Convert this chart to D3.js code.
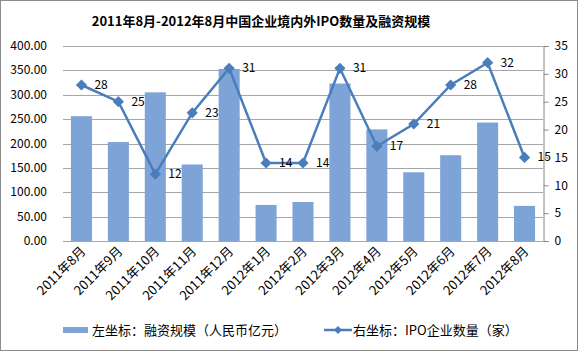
<!DOCTYPE html>
<html>
<head>
<meta charset="utf-8">
<script src="https://cdn.jsdelivr.net/npm/d3@7"></script>
<style>
body { margin: 0; background: #fff; }
text { font-family: "Noto Sans CJK SC", "Noto Sans", sans-serif; fill: #000; }
</style>
</head>
<body>
<div id="container"></div>
<script>
let w = 578;
let h = 351;

let months = ["2011年8月","2011年9月","2011年10月","2011年11月","2011年12月","2012年1月","2012年2月",
  "2012年3月","2012年4月","2012年5月","2012年6月","2012年7月","2012年8月"];
let funding = [256, 203, 305, 157, 353, 74, 80, 323, 229, 141, 176, 243, 72];
let ipoCount = [28, 25, 12, 23, 31, 14, 14, 31, 17, 21, 28, 32, 15];
let leftTicks = [0, 50, 100, 150, 200, 250, 300, 350, 400];
let rightTicks = [0, 5, 10, 15, 20, 25, 30, 35];

let plotL = 63, plotR = 543, plotT = 46, plotB = 241;

let viz = d3.select("#container").append("svg")
  .attr("width", w)
  .attr("height", h);

viz.append("rect")
  .attr("x", 0.5).attr("y", 0.5)
  .attr("width", w - 1).attr("height", h - 1)
  .attr("fill", "#fff")
  .attr("stroke", "#8c8c8c");

let x = d3.scaleBand().domain(months).range([plotL, plotR]).paddingInner(0.43).paddingOuter(0.215);
let yL = d3.scaleLinear().domain([0, 400]).range([plotB, plotT]);
let yR = d3.scaleLinear().domain([0, 35]).range([plotB, plotT]);

// title
viz.append("text")
  .attr("x", 261).attr("y", 26)
  .attr("text-anchor", "middle")
  .style("font-size", "13px")
  .style("font-weight", "bold")
  .text("2011年8月-2012年8月中国企业境内外IPO数量及融资规模");

// gridlines
viz.selectAll(".grid").data(leftTicks).enter()
  .append("line")
  .attr("class", "grid")
  .attr("x1", plotL).attr("x2", plotR)
  .attr("y1", d => Math.round(yL(d)) + 0.5)
  .attr("y2", d => Math.round(yL(d)) + 0.5)
  .attr("stroke", "#a6a6a6");

// left axis labels
viz.selectAll(".lab").data(leftTicks).enter()
  .append("text")
  .attr("class", "lab")
  .attr("x", 47)
  .attr("y", d => yL(d) + 4)
  .attr("text-anchor", "end")
  .style("font-size", "12px")
  .text(d => d3.format(".2f")(d));

// right axis
let rAxis = viz.append("g")
  .attr("transform", "translate(" + (plotR + 0.5) + ",0)")
  .call(d3.axisRight(yR).tickValues(rightTicks).tickSize(5).tickPadding(6));
rAxis.select(".domain").attr("stroke", "#868686");
rAxis.selectAll(".tick line").attr("stroke", "#868686");
rAxis.selectAll(".tick text").style("font-size", "12px").style("font-family", "Noto Sans CJK SC");

// bars
viz.selectAll(".bar").data(funding).enter()
  .append("rect")
  .attr("class", "bar")
  .attr("x", (d, i) => x(months[i]))
  .attr("width", x.bandwidth())
  .attr("y", d => yL(d))
  .attr("height", d => plotB - yL(d))
  .attr("fill", "#7ea4d7");

// x labels
viz.selectAll(".xl").data(months).enter()
  .append("text")
  .attr("class", "xl")
  .attr("text-anchor", "end")
  .attr("transform", d => "translate(" + (x(d) + x.bandwidth() / 2 + 5) + "," + 252 + ") rotate(-45)")
  .style("font-size", "13px")
  .text(d => d);

// line
let cx = (d, i) => x(months[i]) + x.bandwidth() / 2;
let line = d3.line().x(cx).y(d => yR(d));
viz.append("path")
  .datum(ipoCount)
  .attr("d", line)
  .attr("fill", "none")
  .attr("stroke", "#4a7ebb")
  .attr("stroke-width", 2.5);

viz.selectAll(".mk").data(ipoCount).enter()
  .append("path")
  .attr("class", "mk")
  .attr("d", d3.symbol(d3.symbolDiamond2, 80))
  .attr("transform", (d, i) => "translate(" + cx(d, i) + "," + yR(d) + ")")
  .attr("fill", "#4a7ebb");

viz.selectAll(".dl").data(ipoCount).enter()
  .append("text")
  .attr("class", "dl")
  .attr("x", (d, i) => cx(d, i) + 13)
  .attr("y", d => yR(d) + 4)
  .style("font-size", "12px")
  .text(d => d);

// legend
viz.append("rect")
  .attr("x", 63).attr("y", 327).attr("width", 25).attr("height", 6)
  .attr("fill", "#7ea4d7");
viz.append("text")
  .attr("x", 92).attr("y", 335)
  .style("font-size", "13px")
  .text("左坐标：融资规模（人民币亿元）");
viz.append("line")
  .attr("x1", 324).attr("x2", 352).attr("y1", 330).attr("y2", 330)
  .attr("stroke", "#4a7ebb").attr("stroke-width", 2.5);
viz.append("path")
  .attr("d", d3.symbol(d3.symbolDiamond2, 40))
  .attr("transform", "translate(338,330)")
  .attr("fill", "#4a7ebb");
viz.append("text")
  .attr("x", 353).attr("y", 335)
  .style("font-size", "13px")
  .text("右坐标：IPO企业数量（家）");
</script>
</body>
</html>
